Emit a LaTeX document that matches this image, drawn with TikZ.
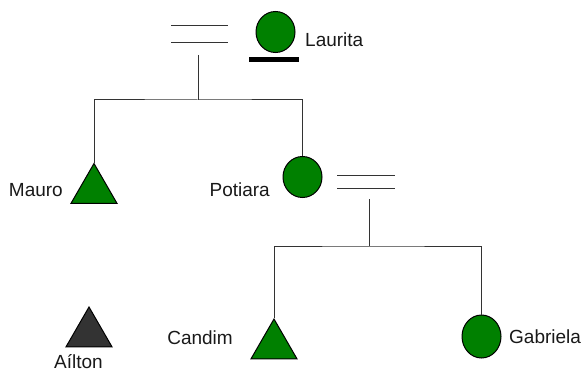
\documentclass[tikz,border=0pt]{standalone}
\usepackage{fontspec}
\setmainfont{Liberation Sans}
\usetikzlibrary{shapes.geometric}
\definecolor{fem}{HTML}{008000}
\definecolor{lin}{HTML}{333333}
\tikzset{
  female/.style={ellipse, draw=black, line width=1pt, fill=fem, inner sep=0pt, minimum width=39pt, minimum height=41pt},
  male/.style={regular polygon, regular polygon sides=3, draw=black, line width=1pt, fill=fem, inner sep=0pt, minimum size=53pt},
  unknown/.style={male, fill=lin},
  lbl/.style={inner sep=0pt, font=\fontsize{19}{22}\selectfont, text=black!90},
  link/.style={draw=lin, line width=1pt},
  bar/.style={draw=black, line width=5pt}
}
\begin{document}
\begin{tikzpicture}[x=1pt,y=-1pt]
\useasboundingbox (0,0) rectangle (588,377);
% top generation
\node[female] (laurita) at (275.5,32) {};
\node[lbl, anchor=base west] (laurital) at (305,47) {Laurita};
\coordinate (lbarL) at (249,60);
\coordinate (lbarR) at (299,60);
\draw[bar] (lbarL) -- (lbarR);
\coordinate (m1aL) at (171,26); \coordinate (m1aR) at (228,26);
\coordinate (m1bL) at (171,43); \coordinate (m1bR) at (228,43);
\draw[link] (m1aL) -- (m1aR);
\draw[link] (m1bL) -- (m1bR);
\coordinate (m1top) at (198,55);
\coordinate (m1bot) at (198,100);
\draw[link] (m1top) -- (m1bot);
% second generation
\node[male, anchor=corner 1] (mauro) at (94,162.5) {};
\node[lbl, anchor=base east] (maurol) at (63,196) {Mauro};
\node[female] (potiara) at (302.5,177) {};
\node[lbl, anchor=base east] (potiaral) at (270,196) {Potiara};
\draw[link] (mauro.corner 1) |- (m1bot) -| (potiara.north);
% second marriage
\coordinate (m2aL) at (337,175); \coordinate (m2aR) at (395,175);
\coordinate (m2bL) at (337,188); \coordinate (m2bR) at (395,188);
\draw[link] (m2aL) -- (m2aR);
\draw[link] (m2bL) -- (m2bR);
\coordinate (m2top) at (369,199);
\coordinate (m2bot) at (369,246);
\draw[link] (m2top) -- (m2bot);
% third generation
\node[male, anchor=corner 1] (candim) at (274,318) {};
\node[lbl, anchor=base east] (candiml) at (233,344) {Candim};
\node[female, minimum height=43pt, minimum width=39pt] (gabriela) at (481.5,336.5) {};
\node[lbl, anchor=base west] (gabrielal) at (509,343) {Gabriela};
\draw[link] (candim.corner 1) |- (m2bot) -| (gabriela.north);
% unrelated
\node[unknown, anchor=corner 1] (ailton) at (89,306) {};
\node[lbl, anchor=base] (ailtonl) at (78.5,368) {Aílton};
\end{tikzpicture}
\end{document}
